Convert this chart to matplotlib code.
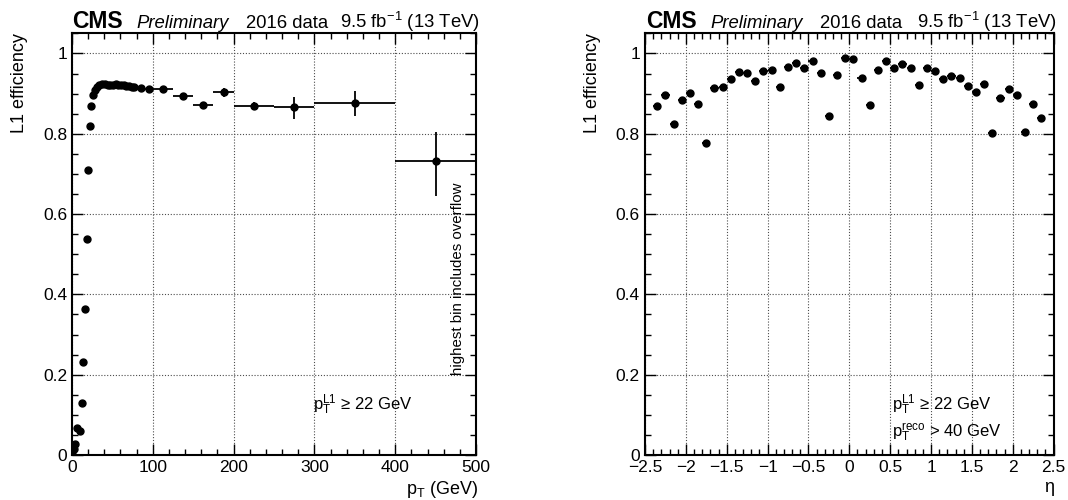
import numpy as np
import matplotlib
matplotlib.use('Agg')
import matplotlib.pyplot as plt
from matplotlib.ticker import MultipleLocator, FuncFormatter

plt.rcParams['font.family'] = ['Liberation Sans', 'DejaVu Sans']
plt.rcParams['mathtext.fontset'] = 'custom'
plt.rcParams['mathtext.rm'] = 'Liberation Sans'
plt.rcParams['mathtext.it'] = 'Liberation Sans:italic'
plt.rcParams['mathtext.bf'] = 'Liberation Sans:bold'

# ---------------- data: efficiency vs pT ----------------
pt_centers = [0.5, 2.5, 4, 6.5, 9.5, 12.5, 14, 16, 18, 20, 22, 24, 26, 28,
              30.5, 33.5, 37, 40.5, 44, 47.5, 51, 54, 57, 60.5, 64, 67, 70.5,
              74, 77, 85, 95, 112.5, 137.5, 162.5, 187.5, 225, 275, 350, 450]
pt_halfwidth = [0.5, 1, 1, 1, 1.5, 1, 1, 1, 1, 1, 1, 1, 1, 1,
                1.5, 1.5, 1.75, 1.75, 1.75, 1.75, 1.75, 1.5, 1.5, 1.75, 1.75, 1.5, 1.75,
                1.75, 1.5, 5, 5, 12.5, 12.5, 12.5, 12.5, 25, 25, 50, 50]
pt_eff = [0.008, 0.015, 0.028, 0.066, 0.061, 0.130, 0.232, 0.364, 0.538, 0.710,
          0.819, 0.870, 0.897, 0.909, 0.917, 0.922, 0.924, 0.923, 0.9215, 0.921,
          0.921, 0.923, 0.9215, 0.9215, 0.9215, 0.920, 0.918, 0.917, 0.917,
          0.915, 0.912, 0.911, 0.893, 0.872, 0.903, 0.870, 0.866, 0.877, 0.731]
pt_err_lo = [0.002, 0.002, 0.003, 0.004, 0.004, 0.004, 0.004, 0.004, 0.004, 0.003,
             0.002, 0.002, 0.002, 0.002, 0.002, 0.002, 0.002, 0.002, 0.002, 0.002,
             0.002, 0.002, 0.002, 0.002, 0.002, 0.002, 0.002, 0.002, 0.002,
             0.002, 0.002, 0.003, 0.005, 0.008, 0.011, 0.011, 0.028, 0.033, 0.086]
pt_err_hi = [0.002, 0.002, 0.003, 0.004, 0.004, 0.004, 0.004, 0.004, 0.004, 0.003,
             0.002, 0.002, 0.002, 0.002, 0.002, 0.002, 0.002, 0.002, 0.002, 0.002,
             0.002, 0.002, 0.002, 0.002, 0.002, 0.002, 0.002, 0.002, 0.002,
             0.002, 0.002, 0.003, 0.005, 0.008, 0.010, 0.010, 0.026, 0.030, 0.074]

# ---------------- data: efficiency vs eta ----------------
eta_centers = [-2.35, -2.25, -2.15, -2.05, -1.95, -1.85, -1.75, -1.65, -1.55, -1.45,
               -1.35, -1.25, -1.15, -1.05, -0.95, -0.85, -0.75, -0.65, -0.55, -0.45,
               -0.35, -0.25, -0.15, -0.05, 0.05, 0.15, 0.25, 0.35, 0.45, 0.55,
               0.65, 0.75, 0.85, 0.95, 1.05, 1.15, 1.25, 1.35, 1.45, 1.55,
               1.65, 1.75, 1.85, 1.95, 2.05, 2.15, 2.25, 2.35]
eta_eff = [0.870, 0.897, 0.824, 0.884, 0.902, 0.874, 0.776, 0.913, 0.917, 0.936,
           0.955, 0.951, 0.931, 0.956, 0.960, 0.917, 0.967, 0.976, 0.964, 0.982,
           0.952, 0.844, 0.946, 0.988, 0.985, 0.940, 0.872, 0.960, 0.982, 0.964,
           0.974, 0.963, 0.922, 0.965, 0.957, 0.936, 0.944, 0.940, 0.920, 0.903,
           0.924, 0.801, 0.890, 0.912, 0.897, 0.805, 0.873, 0.839]
eta_err = [0.005, 0.005, 0.006, 0.005, 0.005, 0.005, 0.006, 0.004, 0.004, 0.004,
           0.004, 0.004, 0.004, 0.004, 0.004, 0.004, 0.003, 0.003, 0.003, 0.003,
           0.003, 0.005, 0.003, 0.003, 0.003, 0.003, 0.005, 0.003, 0.003, 0.003,
           0.003, 0.003, 0.004, 0.004, 0.004, 0.004, 0.004, 0.004, 0.004, 0.004,
           0.004, 0.006, 0.005, 0.005, 0.005, 0.006, 0.005, 0.005]
eta_halfwidth = [0.05] * len(eta_centers)

W, H = 1068, 500
fig = plt.figure(figsize=(W / 100, H / 100), dpi=100)

ax1 = fig.add_axes([72 / W, 45 / H, 404 / W, 421.6 / H])
ax2 = fig.add_axes([645 / W, 45 / H, 408.6 / W, 421.6 / H])


def fmt(v, p):
    s = '%g' % round(v, 6)
    return s.replace('-', '\u2212')


for ax in (ax1, ax2):
    ax.set_ylim(0, 1.05)
    ax.yaxis.set_major_locator(MultipleLocator(0.2))
    ax.yaxis.set_minor_locator(MultipleLocator(0.05))
    ax.yaxis.set_major_formatter(FuncFormatter(fmt))
    ax.xaxis.set_major_formatter(FuncFormatter(fmt))
    ax.tick_params(which='both', direction='in', top=True, right=True,
                   labelsize=12.5, pad=3.6, width=1.0, color='black')
    ax.tick_params(which='major', length=8)
    ax.tick_params(which='minor', length=4)
    for sp in ax.spines.values():
        sp.set_linewidth(1.5)
    ax.set_axisbelow(True)
    ax.grid(True, which='major', linestyle=(0, (1, 1.6)), color='0.3', linewidth=0.8)
    ax.set_ylabel('L1 efficiency', loc='top', fontsize=13)
    ax.yaxis.set_label_coords(-0.108, 1.0)

# left panel
ax1.set_xlim(0, 500)
ax1.xaxis.set_major_locator(MultipleLocator(100))
ax1.xaxis.set_minor_locator(MultipleLocator(20))
ax1.errorbar(pt_centers, pt_eff, xerr=pt_halfwidth, yerr=[pt_err_lo, pt_err_hi],
             fmt='o', color='black', ms=5, elinewidth=1.3, capsize=0, zorder=3)
ax1.set_xlabel(r'$\mathrm{p}_{\mathrm{T}}$ (GeV)', loc='right', fontsize=13)
ax1.xaxis.set_label_coords(1.005, -0.058)
ax1.text(0.597, 0.1186, r'$\mathrm{p}_{\mathrm{T}}^{\mathrm{L1}}$' + ' \u2265 22 GeV',
         transform=ax1.transAxes, fontsize=12, ha='left', va='center')
ax1.text(478, 0.438, 'highest bin includes overflow', rotation=90,
         fontsize=10.8, ha='center', va='center')

# right panel
ax2.set_xlim(-2.5, 2.5)
ax2.xaxis.set_major_locator(MultipleLocator(0.5))
ax2.xaxis.set_minor_locator(MultipleLocator(0.1))
ax2.errorbar(eta_centers, eta_eff, xerr=eta_halfwidth, yerr=eta_err,
             fmt='o', color='black', ms=5, elinewidth=1.3, capsize=0, zorder=3)
ax2.set_xlabel('\u03b7', loc='right', fontsize=13)
ax2.xaxis.set_label_coords(1.0, -0.058)
ax2.text(0.6045, 0.1186, r'$\mathrm{p}_{\mathrm{T}}^{\mathrm{L1}}$' + ' \u2265 22 GeV',
         transform=ax2.transAxes, fontsize=12, ha='left', va='center')
ax2.text(0.6045, 0.0546, r'$\mathrm{p}_{\mathrm{T}}^{\mathrm{reco}}$' + ' > 40 GeV',
         transform=ax2.transAxes, fontsize=12, ha='left', va='center')

# headers
yb = 1 - 27.5 / H
for x0, x_end in ((72, 480), (646, 1057)):
    fig.text(x0 / W, yb, 'CMS', fontsize=16.5, fontweight='bold', ha='left', va='baseline')
    fig.text((x0 + 64) / W, yb, 'Preliminary', fontsize=13.3, style='italic',
             ha='left', va='baseline')
    fig.text((x0 + 174) / W, yb, '2016 data', fontsize=13.3, ha='left', va='baseline')
    fig.text(x_end / W, yb, r'9.5 fb$^{-1}$ (13 TeV)', fontsize=13.3,
             ha='right', va='baseline')

fig.savefig('out.png', dpi=100)
